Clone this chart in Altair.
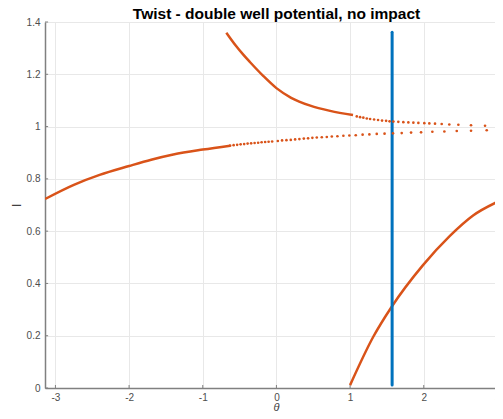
import altair as alt
import pandas as pd

title_text = "Twist - double well potential, no impact"
x_ticks = [-3, -2, -1, 0, 1, 2, 3]
y_ticks = [0, 0.2, 0.4, 0.6, 0.8, 1, 1.2, 1.4]
theta_min = -3.1416
theta_view_max = 3.076
I_min, I_max = 0, 1.4

# lower branch (solid part)
lower_line_theta = [-3.14, -2.75, -2.4, -2.0, -1.7, -1.4, -1.0, -0.628]
lower_line_I = [0.723, 0.777, 0.815, 0.849, 0.873, 0.893, 0.912, 0.927]
# lower branch (sparse dots)
lower_dot_theta = [-0.628, -0.581, -0.533, -0.486, -0.438, -0.391, -0.343, -0.296,
                   -0.248, -0.201, -0.153, -0.106, -0.058, 0.019, 0.077, 0.136,
                   0.195, 0.254, 0.312, 0.372, 0.430, 0.488, 0.548, 0.616, 0.684,
                   0.752, 0.828, 0.909, 0.990, 1.077, 1.170, 1.262, 1.362, 1.468,
                   1.583, 1.701, 1.828, 1.964, 2.117, 2.280, 2.448, 2.642, 2.855]
lower_dot_I = [0.927, 0.929, 0.930, 0.932, 0.933, 0.935, 0.936, 0.937,
               0.938, 0.940, 0.941, 0.942, 0.943, 0.945, 0.947, 0.948,
               0.949, 0.951, 0.952, 0.954, 0.955, 0.957, 0.958, 0.959, 0.960,
               0.962, 0.963, 0.965, 0.966, 0.967, 0.969, 0.970, 0.972, 0.973,
               0.974, 0.975, 0.977, 0.978, 0.980, 0.981, 0.983, 0.984, 0.986]

# upper branch (solid part)
upper_line_theta = [-0.68, -0.55, -0.45, -0.36, -0.18, 0.0, 0.2, 0.46, 0.73, 1.04]
upper_line_I = [1.359, 1.309, 1.275, 1.247, 1.194, 1.147, 1.110, 1.080, 1.060, 1.044]
# upper branch (sparse dots)
upper_dot_theta = [1.091, 1.136, 1.180, 1.227, 1.272, 1.326, 1.380, 1.434, 1.489,
                   1.536, 1.588, 1.655, 1.723, 1.791, 1.859, 1.927, 2.008, 2.076,
                   2.153, 2.244, 2.347, 2.470, 2.642, 2.832, 3.072]
upper_dot_I = [1.039, 1.036, 1.034, 1.031, 1.029, 1.027, 1.025, 1.023, 1.022,
               1.020, 1.019, 1.018, 1.017, 1.016, 1.015, 1.014, 1.013, 1.012,
               1.011, 1.010, 1.008, 1.007, 1.005, 1.003, 1.001]

# right branch
right_line_theta = [1.0, 1.315, 1.565, 1.99, 2.355, 2.67, 3.07, 3.14]
right_line_I = [0.011, 0.196, 0.311, 0.470, 0.582, 0.660, 0.722, 0.732]

# vertical section line
section_theta = 1.5708
section_I = [0.011, 1.361]

orange = "#D95319"
blue = "#0072BD"
font = "Liberation Sans"

lines = pd.DataFrame({
    "theta": lower_line_theta + upper_line_theta + right_line_theta,
    "I": lower_line_I + upper_line_I + right_line_I,
    "branch": ["lower"] * len(lower_line_theta) + ["upper"] * len(upper_line_theta)
              + ["right"] * len(right_line_theta),
})
dots = pd.DataFrame({
    "theta": lower_dot_theta + upper_dot_theta,
    "I": lower_dot_I + upper_dot_I,
})
section = pd.DataFrame({"theta": [section_theta], "I": [section_I[0]], "I2": [section_I[1]]})
xtick_df = pd.DataFrame({"theta": x_ticks, "I": [I_min] * len(x_ticks),
                         "I2": [I_min + 0.0115] * len(x_ticks)})
ytick_df = pd.DataFrame({"theta": [theta_min] * len(y_ticks),
                         "theta2": [theta_min + 0.042] * len(y_ticks), "I": y_ticks})

xs = alt.Scale(domain=[theta_min, theta_view_max], nice=False, zero=False)
ys = alt.Scale(domain=[I_min, I_max], nice=False, zero=False)

x_axis = alt.Axis(values=x_ticks, title="θ", grid=True, gridColor="#e8e8e8", gridWidth=1,
                  ticks=False, domainColor="#808080", domainWidth=1.5,
                  labelFont=font, labelFontSize=10, labelColor="#4d4d4d", labelPadding=4,
                  labelExpr="toString(datum.value)", labelFlush=False,
                  titleFont=font, titleFontStyle="italic", titleFontWeight="normal",
                  titleFontSize=11, titleColor="#404040", titleX=231, titleY=22,
                  titleBaseline="alphabetic")
y_axis = alt.Axis(values=y_ticks, title="I", grid=True, gridColor="#e8e8e8", gridWidth=1,
                  ticks=False, domainColor="#808080", domainWidth=1.5,
                  labelFont=font, labelFontSize=10, labelColor="#4d4d4d", labelPadding=5,
                  labelExpr="toString(datum.value)", labelFlush=False,
                  titleFont=font, titleFontWeight="normal", titleFontSize=13,
                  titleColor="#404040", titleAngle=270, titleX=-25, titleY=183,
                  titleBaseline="alphabetic", titleAlign="center")

X = alt.X("theta:Q", scale=xs, axis=x_axis)
Y = alt.Y("I:Q", scale=ys, axis=y_axis)

line_layer = alt.Chart(lines).mark_line(color=orange, strokeWidth=2.5, interpolate="monotone",
                                        clip=True).encode(x=X, y=Y, detail="branch:N")
dot_layer = alt.Chart(dots).mark_circle(color=orange, size=7, opacity=1, clip=True).encode(x=X, y=Y)
section_layer = alt.Chart(section).mark_rule(color=blue, strokeWidth=3, strokeCap="round").encode(
    x=X, y=Y, y2="I2:Q")
xtick_layer = alt.Chart(xtick_df).mark_rule(color="#808080", strokeWidth=1).encode(x=X, y=Y, y2="I2:Q")
ytick_layer = alt.Chart(ytick_df).mark_rule(color="#808080", strokeWidth=1).encode(x=X, x2="theta2:Q", y=Y)

chart = alt.layer(xtick_layer, ytick_layer, line_layer, section_layer, dot_layer).properties(
    width=458, height=366,
    title=alt.TitleParams(title_text, font=font, fontSize=15.5, fontWeight="bold", color="black",
                          anchor="middle", frame="group", dx=2.5, dy=21.5, offset=4,
                          baseline="alphabetic"),
    autosize=alt.AutoSizeParams(type="none"),
    padding={"left": 37, "top": 14, "right": -8, "bottom": 23},
).configure_view(stroke=None).configure(background="white")

chart.save("out.html", embed_options={"renderer": "svg", "actions": False})
